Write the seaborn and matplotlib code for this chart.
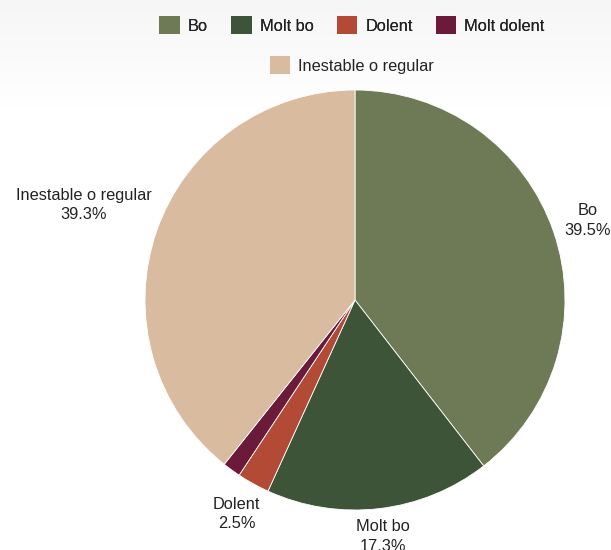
import numpy as np
import matplotlib
matplotlib.use("Agg")
import matplotlib.pyplot as plt
from matplotlib.patches import Patch
import seaborn as sns

categories = ["Bo", "Molt bo", "Dolent", "Molt dolent", "Inestable o regular"]
shares = [39.5, 17.3, 2.5, 1.4, 39.3]
show_label = [True, True, True, False, True]
colors = sns.color_palette(["#6e7a55", "#3d5438", "#b34a36", "#6b1a3a", "#d9bca0"])

sns.set_theme(style="white")
plt.rcParams["font.family"] = ["Liberation Sans", "DejaVu Sans"]

W, H = 611, 550
fig = plt.figure(figsize=(W / 100, H / 100), dpi=100)
fig.patch.set_facecolor("white")

# faint grey wash at the top of the canvas
bg = fig.add_axes([0, 0, 1, 1], zorder=-10)
grad = np.ones((H, 1))
top = 110
grad[:top, 0] = np.linspace(0.965, 1.0, top)
bg.imshow(np.repeat(grad[:, :, None], 3, axis=2), aspect="auto", extent=[0, 1, 0, 1])
bg.axis("off")

cx, cy, r = 355, 300, 210
ax = fig.add_axes([(cx - r) / W, (H - cy - r) / H, 2 * r / W, 2 * r / H])
ax.set_facecolor("none")
wedges, _ = ax.pie(shares, colors=colors, startangle=90, counterclock=False,
                   radius=1, wedgeprops=dict(linewidth=0.6, edgecolor="white"))
ax.set_xlim(-1, 1)
ax.set_ylim(-1, 1)
ax.axis("off")

fs = 11.8
gap_px = 8
renderer = fig.canvas.get_renderer()
for w, name, val, show in zip(wedges, categories, shares, show_label):
    if not show:
        continue
    ang = np.deg2rad((w.theta1 + w.theta2) / 2)
    c, s = np.cos(ang), np.sin(ang)
    t = ax.text(0, 0, f"{name}\n{val:.1f}%", ha="center", va="center",
                multialignment="center", fontsize=fs, color="#222222",
                linespacing=1.35, clip_on=False)
    bb = t.get_window_extent(renderer)
    # push the label box out until it clears the rim by a small gap
    reach = bb.width / 2 * abs(c) + bb.height / 2 * abs(s)
    d = (r + gap_px + reach) / r
    t.set_position((d * c, d * s))

handles = [Patch(facecolor=col, edgecolor="none") for col in colors]
common = dict(frameon=False, fontsize=fs, handlelength=1.25, handleheight=1.25,
              handletextpad=0.5, columnspacing=1.4, borderaxespad=0,
              labelcolor="#222222")
leg1 = fig.legend(handles[:4], categories[:4], ncol=4, loc="center",
                  bbox_to_anchor=(352 / W, 1 - 25 / H), **common)
fig.add_artist(leg1)
fig.legend(handles[4:], categories[4:], ncol=1, loc="center",
           bbox_to_anchor=(352 / W, 1 - 65 / H), **common)

fig.savefig("out.png", dpi=100)
